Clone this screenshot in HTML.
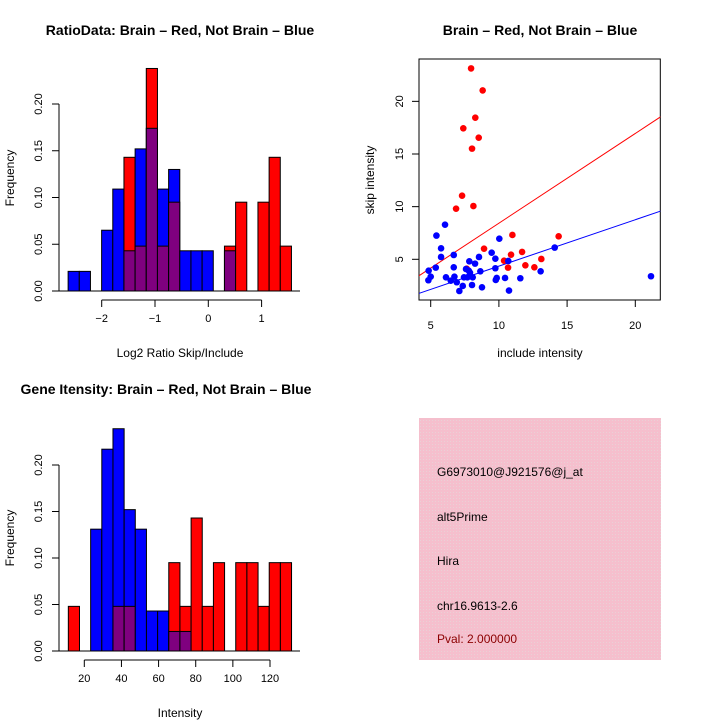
<!DOCTYPE html>
<html><head><meta charset="utf-8"><style>
body{margin:0;background:#fff}
svg{display:block;font-family:"Liberation Sans",sans-serif}
</style></head><body>
<svg id="s" width="720" height="720" xmlns="http://www.w3.org/2000/svg">
<text x="180" y="35" font-size="14" font-weight="bold" text-anchor="middle">RatioData: Brain – Red, Not Brain – Blue</text>
<text x="540" y="35" font-size="14" font-weight="bold" text-anchor="middle">Brain – Red, Not Brain – Blue</text>
<text x="166" y="394" font-size="14" font-weight="bold" text-anchor="middle">Gene Itensity: Brain – Red, Not Brain – Blue</text>
<text x="180" y="357" font-size="12" text-anchor="middle">Log2 Ratio Skip/Include</text>
<text x="14" y="178" font-size="12" text-anchor="middle" transform="rotate(-90 14 178)">Frequency</text>
<text x="180" y="717" font-size="12" text-anchor="middle">Intensity</text>
<text x="14" y="538" font-size="12" text-anchor="middle" transform="rotate(-90 14 538)">Frequency</text>
<text x="540" y="357" font-size="12" text-anchor="middle">include intensity</text>
<text x="374" y="180" font-size="12" text-anchor="middle" transform="rotate(-90 374 180)">skip intensity</text>
<defs><pattern id="hatch" width="3" height="3" patternUnits="userSpaceOnUse"><rect width="3" height="3" fill="#f5bfcd"/><rect width="1" height="1" fill="#ead0d6"/></pattern></defs>
<rect x="419" y="418" width="242" height="242" fill="url(#hatch)"/>
<g font-size="12">
<text x="437" y="476">G6973010@J921576@j_at</text>
<text x="437" y="521">alt5Prime</text>
<text x="437" y="565">Hira</text>
<text x="437" y="610">chr16.9613-2.6</text>
<text x="437" y="643" fill="#8b0000">Pval: 2.000000</text>
</g>
</svg>
<script>
// Ratio histogram data
const ratioBreakStart = -2.63, ratioBinWidth = 0.2095;
const ratioBlue = [0.021,0.021,0,0.065,0.109,0.043,0.152,0.174,0.109,0.130,0.043,0.043,0.043,0,0.043,0,0,0,0,0];
const ratioRed  = [0,0,0,0,0,0.143,0.048,0.238,0.048,0.095,0,0,0,0,0.048,0.095,0,0.095,0.143,0.048];
const ratioXTicks = [-2,-1,0,1];
const freqTicks = [0,0.05,0.10,0.15,0.20];
const freqTickLabels = ["0.00","0.05","0.10","0.15","0.20"];
// Intensity histogram data
const intBreakStart = 11.4, intBinWidth = 6.01;
const intBlue = [0,0,0.131,0.217,0.239,0.152,0.131,0.043,0.043,0.021,0.021,0,0,0,0,0,0,0,0,0];
const intRed  = [0.048,0,0,0,0.048,0.048,0,0,0,0.095,0.048,0.143,0.048,0.095,0,0.095,0.095,0.048,0.095,0.095];
const intXTicks = [20,40,60,80,100,120];
// Scatter data
const redX = [7.96,8.81,8.27,7.39,8.52,8.03,7.30,8.13,6.86,8.91,10.99,14.38,11.70,10.89,10.38,10.67,11.94,12.60,13.11,7.64];
const redY = [23.13,21.04,18.45,17.44,16.55,15.51,11.04,10.06,9.81,6.01,7.31,7.18,5.70,5.44,4.87,4.21,4.43,4.24,5.03,4.11];
const blueX = [6.05,5.42,5.76,5.76,6.69,5.37,4.85,5.00,4.83,6.12,6.69,6.74,6.91,6.47,7.10,7.35,7.83,8.25,7.59,7.79,7.44,7.69,8.08,7.88,8.03,8.64,8.76,8.54,9.47,9.74,9.74,9.77,9.84,10.03,10.69,10.45,10.74,11.57,13.06,14.09,21.15];
const blueY = [8.29,7.25,6.04,5.22,5.41,4.21,3.92,3.35,3.01,3.29,4.24,3.35,2.82,2.97,1.99,2.47,4.81,4.59,4.08,3.92,3.29,3.29,3.29,3.73,2.56,3.86,2.34,5.22,5.63,5.06,4.15,3.04,3.23,6.96,4.84,3.23,2.03,3.20,3.86,6.11,3.39];
const redLine = [-0.09, 0.852];
const blueLine = [-0.06, 0.441];
const scatterXTicks = [5,10,15,20];
const scatterYTicks = [5,10,15,20];

const NS="http://www.w3.org/2000/svg", svg=document.getElementById('s');
function mk(tag, attrs, parent){const e=document.createElementNS(NS,tag);for(const k in attrs)e.setAttribute(k,attrs[k]);(parent||svg).appendChild(e);return e;}

function hist(blue, red, start, w, xs, ys, xTicks, axisY, name){
  const g=mk('g',{});
  
  
  for(let i=0;i<blue.length;i++){
    const x0=xs(start+i*w), x1=xs(start+(i+1)*w);
    const b=blue[i], r=red[i];
    const lo=Math.min(b,r), hi=Math.max(b,r);
    if(hi>0){
      const bar=mk('rect',{x:x0,y:ys(hi),width:x1-x0,height:ys(0)-ys(hi),fill:b>r?'#0000ff':'#ff0000',stroke:'#000','stroke-width':1},g);
      
      
    }
    if(lo>0){
      const ov=mk('rect',{x:x0,y:ys(lo),width:x1-x0,height:ys(0)-ys(lo),fill:'#7f007f',stroke:'#000','stroke-width':1},g);
      
      
    }
  }
  const ya=mk('g',{});
  
  
  mk('line',{x1:59,x2:59,y1:ys(0),y2:ys(0.2),stroke:'#000'},ya);
  freqTicks.forEach((t,i)=>{
    mk('line',{x1:52,x2:59,y1:ys(t),y2:ys(t),stroke:'#000'},ya);
    const tx=mk('text',{x:42,y:ys(t),'font-size':11,'text-anchor':'middle',transform:`rotate(-90 42 ${ys(t)})`},ya);
    tx.textContent=freqTickLabels[i];
  });
  mk('line',{x1:52,x2:300,y1:ys(0),y2:ys(0),stroke:'#000'},g);
  const xa=mk('g',{});
  
  
  mk('line',{x1:xs(xTicks[0]),x2:xs(xTicks[xTicks.length-1]),y1:axisY,y2:axisY,stroke:'#000'},xa);
  xTicks.forEach(t=>{
    mk('line',{x1:xs(t),x2:xs(t),y1:axisY,y2:axisY+7,stroke:'#000'},xa);
    const tx=mk('text',{x:xs(t),y:axisY+22,'font-size':11,'text-anchor':'middle'},xa);
    tx.textContent=String(t).replace('-','−');
  });
}
hist(ratioBlue, ratioRed, ratioBreakStart, ratioBinWidth, v=>208.3+53.3*v, v=>291-v*935, ratioXTicks, 300, 'ratio-histogram');
hist(intBlue, intRed, intBreakStart, intBinWidth, v=>84.3+(v-20)*1.857, v=>651-v*930, intXTicks, 660, 'intensity-histogram');

const sx=v=>430.7+(v-5)*13.64, sy=v=>259.3-(v-5)*10.53;
const sg=mk('g',{});


const clip=mk('clipPath',{id:'sc'});mk('rect',{x:419,y:59,width:241.3,height:241},clip);
mk('rect',{x:419,y:59,width:241.3,height:241,fill:'none',stroke:'#000'},sg);
[[redLine,'#ff0000','red-fit-line'],[blueLine,'#0000ff','blue-fit-line']].forEach(([l,c,n])=>{
  const x0=3.5,x1=22.5;
  const ln=mk('line',{x1:sx(x0),y1:sy(l[0]+l[1]*x0),x2:sx(x1),y2:sy(l[0]+l[1]*x1),stroke:c,'clip-path':'url(#sc)'},sg);
  
  
});
redX.forEach((x,i)=>{const c=mk('circle',{cx:sx(x),cy:sy(redY[i]),r:3.3,fill:'#ff0000'},sg);
  
  });
blueX.forEach((x,i)=>{const c=mk('circle',{cx:sx(x),cy:sy(blueY[i]),r:3.3,fill:'#0000ff'},sg);
  
  });
scatterXTicks.forEach(t=>{mk('line',{x1:sx(t),x2:sx(t),y1:300,y2:307,stroke:'#000'},sg);
  const tx=mk('text',{x:sx(t),y:329,'font-size':11,'text-anchor':'middle'},sg);tx.textContent=t;
  
  });
scatterYTicks.forEach(t=>{mk('line',{x1:412,x2:419,y1:sy(t),y2:sy(t),stroke:'#000'},sg);
  const tx=mk('text',{x:403,y:sy(t),'font-size':11,'text-anchor':'middle',transform:`rotate(-90 403 ${sy(t)})`},sg);tx.textContent=t;
  
  });
</script>
</body></html>
